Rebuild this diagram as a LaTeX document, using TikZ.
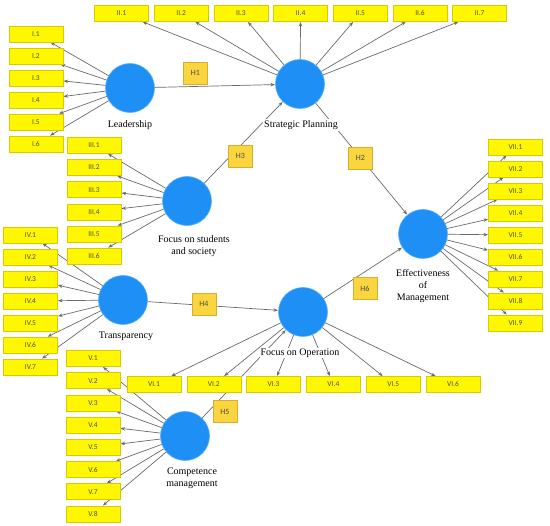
\documentclass[tikz,border=0pt]{standalone}
\usepackage{fontspec}
\newfontfamily\serifl{Liberation Serif}
\newfontfamily\sansl{Carlito}
\usetikzlibrary{arrows.meta}
\definecolor{lvblue}{HTML}{1E8FF5}
\definecolor{lvedge}{HTML}{5AB0FF}
\definecolor{indyellow}{HTML}{FFF700}
\definecolor{indborder}{HTML}{D8CC00}
\definecolor{hgold}{HTML}{FAD53E}
\definecolor{hborder}{HTML}{D9AE30}
\definecolor{linegray}{HTML}{6A6A6A}
\tikzset{
  lv/.style={circle, fill=lvblue, draw=lvedge, line width=0.6pt, minimum size=49pt, inner sep=0pt},
  ind/.style={rectangle, fill=indyellow, draw=indborder, line width=0.5pt, minimum width=54pt, minimum height=16pt, inner sep=0pt, font=\sansl\fontsize{7.5}{9}\selectfont, text=black!70},
  hyp/.style={rectangle, fill=hgold, draw=hborder, line width=0.6pt, minimum width=24pt, minimum height=22pt, inner sep=0pt, font=\sansl\fontsize{8}{9}\selectfont, text=black!70},
  lbl/.style={fill=white, inner sep=1pt, align=center, font=\serifl\fontsize{10}{12}\selectfont},
  refl/.style={draw=linegray, line width=0.7pt, -{Stealth[length=4.5pt,width=3.5pt]}, shorten >=0.3pt},
}
\begin{document}
\begin{tikzpicture}[x=1pt,y=-1pt]
\useasboundingbox (0,0) rectangle (550,526);
% latent variables
\node[lv] (L) at (130,88) {};
\node[lv] (SP) at (300,84) {};
\node[lv] (FS) at (187,201) {};
\node[lv] (T) at (123,300) {};
\node[lv] (FO) at (303,312) {};
\node[lv] (CM) at (185,436) {};
\node[lv] (E) at (423,234) {};
% indicator positions (named, used as connector ends)
\foreach \k in {1,...,6} \node[ind] (I\k) at (36,{34+22*(\k-1)}) {I.\k};
\foreach \k in {1,...,7} \node[ind] (II\k) at ({121.5+59.7*(\k-1)},13.5) {II.\k};
\foreach \k in {1,...,6} \node[ind] (III\k) at (94,{145.5+22.1*(\k-1)}) {III.\k};
\foreach \k in {1,...,7} \node[ind] (IV\k) at (30.5,{235+22*(\k-1)}) {IV.\k};
\foreach \k in {1,...,8} \node[ind] (V\k) at (93,{358.5+22.2*(\k-1)}) {V.\k};
\foreach \k in {1,...,6} \node[ind] (VI\k) at ({154+59.8*(\k-1)},384.5) {VI.\k};
\foreach \k in {1,...,9} \node[ind] (VII\k) at (515.5,{147+22*(\k-1)}) {VII.\k};
% connectors
\foreach \k in {1,...,6} \draw[refl] (L) -- (I\k);
\foreach \k in {1,...,7} \draw[refl] (SP) -- (II\k);
\foreach \k in {1,...,6} \draw[refl] (FS) -- (III\k);
\foreach \k in {1,...,7} \draw[refl] (T) -- (IV\k);
\foreach \k in {1,...,8} \draw[refl] (CM) -- (V\k);
\foreach \k in {1,...,6} \draw[refl] (FO) -- (VI\k);
\foreach \k in {1,...,9} \draw[refl] (E) -- (VII\k);
\draw[refl] (L) -- (SP);
\draw[refl] (SP) -- (E);
\draw[refl] (FS) -- (SP);
\draw[refl] (T) -- (FO);
\draw[refl] (CM) -- (FO);
\draw[refl] (FO) -- (E);
% boxes drawn again above the connectors
\foreach \k in {1,...,6} \node[ind] at (I\k) {I.\k};
\foreach \k in {1,...,7} \node[ind] at (II\k) {II.\k};
\foreach \k in {1,...,6} \node[ind] at (III\k) {III.\k};
\foreach \k in {1,...,7} \node[ind] at (IV\k) {IV.\k};
\foreach \k in {1,...,8} \node[ind] at (V\k) {V.\k};
\foreach \k in {1,...,6} \node[ind] at (VI\k) {VI.\k};
\foreach \k in {1,...,9} \node[ind] at (VII\k) {VII.\k};
% hypothesis boxes
\node[hyp] (H1) at (195.5,73) {H1};
\node[hyp] (H2) at (360.5,158) {H2};
\node[hyp] (H3) at (240.5,156) {H3};
\node[hyp] (H4) at (204,304) {H4};
\node[hyp] (H5) at (225,411.5) {H5};
\node[hyp] (H6) at (365,288.5) {H6};
% labels
\node[lbl] (Llab) at (130,125) {Leadership};
\node[lbl] (SPlab) at (301,125) {Strategic Planning};
\node[lbl] (FSlab) at (194,246) {Focus on students\\and society};
\node[lbl] (Tlab) at (126,336) {Transparency};
\node[lbl] (FOlab) at (300,353) {Focus on Operation};
\node[lbl] (CMlab) at (192,478) {Competence\\management};
\node[lbl] (Elab) at (423,286) {Effectiveness\\of\\Management};
\end{tikzpicture}
\end{document}
